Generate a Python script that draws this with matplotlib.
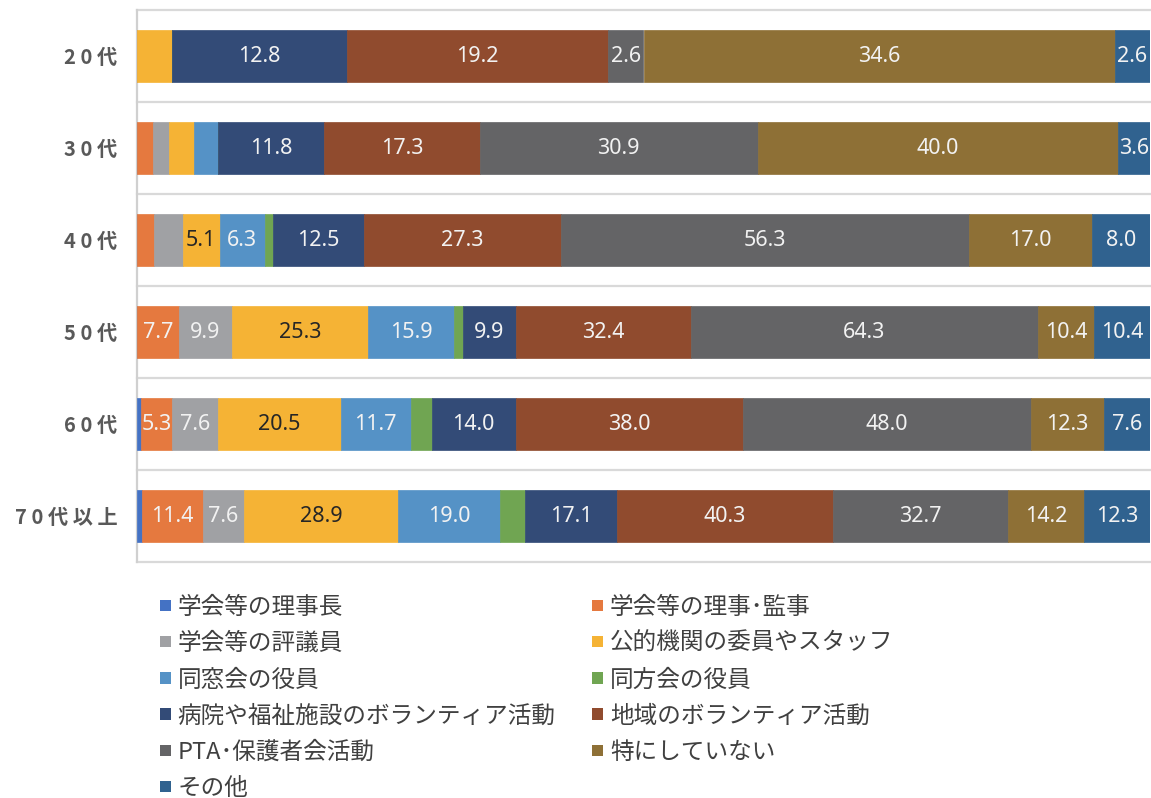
import matplotlib
matplotlib.use('Agg')
import matplotlib.pyplot as plt
from matplotlib.patches import Patch
import numpy as np

plt.rcParams['font.family'] = ['Noto Sans CJK JP', 'DejaVu Sans']

# 年代（上から順に）
ages = ['20代', '30代', '40代', '50代', '60代', '70代以上']

# 活動の種類（凡例の順）
activities = [
    '学会等の理事長', '学会等の理事･監事', '学会等の評議員', '公的機関の委員やスタッフ',
    '同窓会の役員', '同方会の役員', '病院や福祉施設のボランティア活動', '地域のボランティア活動',
    'PTA･保護者会活動', '特にしていない', 'その他',
]

# 各年代の回答率(%)　並びは ages と同じ
rijicho  = [0.0, 0.0, 0.0, 0.0, 0.6, 0.9]
riji     = [0.0, 1.8, 2.3, 7.7, 5.3, 11.4]
hyogiin  = [0.0, 1.8, 4.0, 9.9, 7.6, 7.6]
koteki   = [2.6, 2.7, 5.1, 25.3, 20.5, 28.9]
dosokai  = [0.0, 2.7, 6.3, 15.9, 11.7, 19.0]
dohokai  = [0.0, 0.0, 1.1, 1.6, 3.5, 4.7]
byoin    = [12.8, 11.8, 12.5, 9.9, 14.0, 17.1]
chiiki   = [19.2, 17.3, 27.3, 32.4, 38.0, 40.3]
pta      = [2.6, 30.9, 56.3, 64.3, 48.0, 32.7]
tokuni   = [34.6, 40.0, 17.0, 10.4, 12.3, 14.2]
sonota   = [2.6, 3.6, 8.0, 10.4, 7.6, 12.3]

series = [rijicho, riji, hyogiin, koteki, dosokai, dohokai,
          byoin, chiiki, pta, tokuni, sonota]

colors = ['#4472C4', '#E5793F', '#A0A1A4', '#F5B335', '#5592C6', '#70A552',
          '#334B77', '#904B2E', '#646466', '#8E7036', '#30628F']

data = np.array(series)              # (活動, 年代)
totals = data.sum(axis=0)
shares = data / totals * 100         # 100%積み上げ用

fig = plt.figure(figsize=(11.51, 7.98), dpi=100)
ax = fig.add_axes([137 / 1151, 1 - 562 / 798, 1013 / 1151, 552 / 798])

y = np.arange(len(ages))
left = np.zeros(len(ages))
for i, (name, col) in enumerate(zip(activities, colors)):
    ax.barh(y, shares[i], left=left, height=0.565, color=col, edgecolor=col,
            linewidth=0.5, label=name, zorder=3)
    for j in range(len(ages)):
        v = data[i, j]
        # 小さい値はラベルを省略（PTA以降は表示）
        if v <= 0 or (v < 5 and i < 8) or i == 5:
            continue
        tc = '#262626' if i == 3 else '#F2F2F2'
        ax.text(left[j] + shares[i, j] / 2, y[j], f'{v:.1f}',
                ha='center', va='center', color=tc, fontsize=15.5,
                family=['Noto Sans', 'DejaVu Sans'], zorder=4)
    left += shares[i]

ax.set_xlim(0, 100)
ax.set_ylim(len(ages) - 0.5, -0.5)

# カテゴリ境界の区切り線
for b in np.arange(-0.5, len(ages), 1.0):
    ax.axhline(b, color='#D9D9D9', lw=1.6, zorder=1, clip_on=False)

for s in ['top', 'right', 'bottom']:
    ax.spines[s].set_visible(False)
ax.spines['left'].set_color('#D0D0D0')
ax.spines['left'].set_linewidth(1.6)

ax.set_xticks([])
ax.set_yticks(y)
ax.set_yticklabels([' '.join(a) for a in ages], fontsize=14.5, fontweight='bold',
                   color='#595959')
ax.tick_params(axis='y', length=0, pad=14)

# 凡例は行ごとに左→右で並べる
handles = [Patch(facecolor=c, edgecolor='none') for c in colors]
order = [0, 2, 4, 6, 8, 10, 1, 3, 5, 7, 9]
fig.legend([handles[k] for k in order], [activities[k] for k in order],
           ncol=2, loc='upper left', bbox_to_anchor=(160 / 1151, 1 - 596 / 798),
           frameon=False, fontsize=17, handlelength=0.47, handleheight=0.37,
           handletextpad=0.28, columnspacing=1.55, labelspacing=0.56,
           borderpad=0, borderaxespad=0, labelcolor='#404040')

fig.savefig('out.png', dpi=100, facecolor='white')
